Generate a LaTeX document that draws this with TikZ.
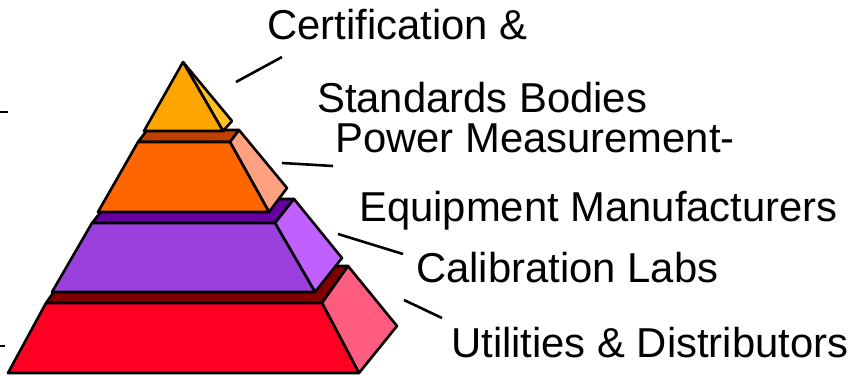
\documentclass[tikz,border=0pt]{standalone}
\usepackage{fontspec}
\setmainfont{Liberation Sans}
\definecolor{redfront}{HTML}{FF0022}
\definecolor{redside}{HTML}{FF5C80}
\definecolor{redtop}{HTML}{800000}
\definecolor{purfront}{HTML}{9B3FDD}
\definecolor{purside}{HTML}{C060FF}
\definecolor{purtop}{HTML}{6600A0}
\definecolor{orafront}{HTML}{FF6600}
\definecolor{oraside}{HTML}{FFA080}
\definecolor{oratop}{HTML}{C04000}
\definecolor{tipfront}{HTML}{FFA500}
\definecolor{tipside}{HTML}{FFC020}
\begin{document}
\begin{tikzpicture}[x=1pt,y=-1pt,
  face/.style={draw=black,line width=2.6pt,line join=round},
  leader/.style={draw=black,line width=2.6pt},
  lbl/.style={anchor=base west,inner sep=0pt,font=\fontsize{41.8}{49}\selectfont}]
\useasboundingbox (0,0) rectangle (864,375);

% bottom tier
\filldraw[face,fill=redtop] (46,303) -- (322,303) -- (348,266) -- (72,266) -- cycle;
\filldraw[face,fill=redside] (322,303) -- (348,266) -- (397,326) -- (359,373) -- cycle;
\filldraw[face,fill=redfront] (46,303) -- (322,303) -- (359,373) -- (8,373) -- cycle;

% purple tier
\filldraw[face,fill=purtop] (92,223) -- (275,223) -- (294,199) -- (111,199) -- cycle;
\filldraw[face,fill=purside] (275,223) -- (294,199) -- (342,258) -- (315,292) -- cycle;
\filldraw[face,fill=purfront] (92,223) -- (275,223) -- (315,292) -- (52,292) -- cycle;

% orange tier
\filldraw[face,fill=oratop] (138,142) -- (230,142) -- (239,130) -- (147,130) -- cycle;
\filldraw[face,fill=oraside] (230,142) -- (239,130) -- (287,188) -- (269,212) -- cycle;
\filldraw[face,fill=orafront] (138,142) -- (230,142) -- (269,212) -- (98,212) -- cycle;

% tip
\filldraw[face,fill=tipside] (183,62) -- (232,121) -- (223,131) -- cycle;
\filldraw[face,fill=tipfront] (144,131) -- (223,131) -- (183,62) -- cycle;

% labels
\node[lbl] (cert) at (267,39) {Certification \&};
\node[lbl] (stand) at (317,112) {Standards Bodies};
\node[lbl] (power) at (335,152) {Power Measurement-};
\node[lbl] (equip) at (359,221) {Equipment Manufacturers};
\node[lbl] (calib) at (416,282) {Calibration Labs};
\node[lbl] (util) at (451,357) {Utilities \& Distributors};

% leader lines
\coordinate (c1) at (282,57);  \coordinate (c2) at (236,82);
\coordinate (p1) at (282,163); \coordinate (p2) at (333,166);
\coordinate (k1) at (338,234); \coordinate (k2) at (403,254);
\coordinate (u1) at (404,300); \coordinate (u2) at (442,318);
\draw[leader] (c1) -- (c2);
\draw[leader] (p1) -- (p2);
\draw[leader] (k1) -- (k2);
\draw[leader] (u1) -- (u2);

% ticks at the left edge
\coordinate (t1) at (0,112); \coordinate (t2) at (8,112);
\coordinate (t3) at (0,346); \coordinate (t4) at (5,346);
\draw[line width=1.5pt] (t1) -- (t2);
\draw[line width=1.5pt] (t3) -- (t4);

\end{tikzpicture}
\end{document}
